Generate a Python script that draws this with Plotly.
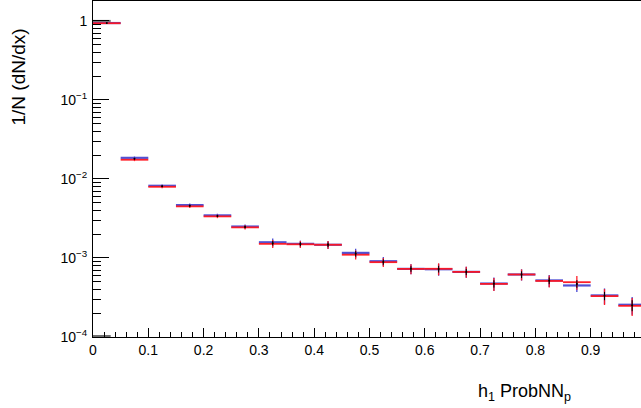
import plotly.graph_objects as go

# ---- data ----
bin_centers = [0.025, 0.075, 0.125, 0.175, 0.225, 0.275, 0.325, 0.375, 0.425, 0.475,
               0.525, 0.575, 0.625, 0.675, 0.725, 0.775, 0.825, 0.875, 0.925, 0.975]
bin_half_width = [0.025] * 20

blue_vals = [0.94, 0.0185, 0.0082, 0.00467, 0.00346, 0.00250, 0.00158, 0.00151, 0.00147, 0.00116,
             0.00091, 0.000728, 0.00072, 0.000667, 0.000475, 0.000618, 0.00052, 0.000449, 0.000336, 0.000256]
blue_errs = [0.0047, 0.0007, 0.00033, 0.00023, 0.00017, 0.00015, 0.00018, 0.00015, 0.00017, 0.00015,
             0.00012, 0.000105, 0.000124, 0.000105, 0.00009, 0.0001, 0.00009, 0.000077, 0.000076, 0.000065]

red_vals = [0.935, 0.0175, 0.00796, 0.00450, 0.00336, 0.00244, 0.00151, 0.00149, 0.00147, 0.00110,
            0.000885, 0.000728, 0.00073, 0.000667, 0.00047, 0.000618, 0.000512, 0.000494, 0.000329, 0.000248]
red_errs = [0.0047, 0.0007, 0.00032, 0.000225, 0.000168, 0.000146, 0.000175, 0.000149, 0.000171, 0.000143,
            0.000115, 0.000105, 0.000126, 0.000105, 0.000088, 0.000098, 0.000088, 0.000099, 0.000075, 0.0000635]

black_vals = [0.94, 0.018, 0.0081, 0.00458, 0.0034, 0.00247, 0.00154, 0.0015, 0.00147, 0.00113,
              0.00089, 0.000728, 0.000725, 0.000667, 0.000472, 0.000618, 0.000516, 0.00047, 0.000332, 0.000252]
black_errs = [0.003, 0.0004, 0.0002, 0.00014, 0.0001, 0.00009, 0.0001, 0.00009, 0.0001, 0.00009,
              0.00007, 0.00006, 0.00007, 0.00006, 0.00005, 0.00006, 0.00005, 0.00005, 0.00004, 0.00004]

# short grey histogram-edge segments in the first bin
grey_x = [0.0, 0.032]
grey_top = [1.0, 1.0]
grey_bottom = [1.03e-4, 1.03e-4]

y_tickvals = [1e-4, 1e-3, 1e-2, 1e-1, 1]
y_ticktext = ["10<sup>\u22124</sup>", "10<sup>\u22123</sup>", "10<sup>\u22122</sup>", "10<sup>\u22121</sup>", "1"]
x_tickvals = [0, 0.1, 0.2, 0.3, 0.4, 0.5, 0.6, 0.7, 0.8, 0.9]
x_ticktext = ["0", "0.1", "0.2", "0.3", "0.4", "0.5", "0.6", "0.7", "0.8", "0.9"]

FONT = "Liberation Sans, Arial, Helvetica, sans-serif"

fig = go.Figure()

for yy in (grey_top, grey_bottom):
    fig.add_trace(go.Scatter(x=grey_x, y=yy, mode="lines",
                             line=dict(color="rgb(110,110,110)", width=2),
                             showlegend=False, hoverinfo="skip"))

fig.add_trace(go.Scatter(
    x=bin_centers, y=blue_vals, mode="markers",
    marker=dict(size=1, color="rgba(0,0,0,0)"),
    error_x=dict(type="data", array=bin_half_width, color="rgba(50,50,205,0.85)", thickness=2.2, width=0),
    error_y=dict(type="data", array=blue_errs, color="rgba(50,50,205,0.9)", thickness=1.3, width=0),
    showlegend=False, cliponaxis=True))

fig.add_trace(go.Scatter(
    x=bin_centers, y=red_vals, mode="markers",
    marker=dict(size=1, color="rgba(0,0,0,0)"),
    error_x=dict(type="data", array=bin_half_width, color="rgba(255,20,30,0.95)", thickness=1.8, width=0),
    error_y=dict(type="data", array=red_errs, color="rgba(255,20,30,0.95)", thickness=1.3, width=0),
    showlegend=False, cliponaxis=True))

fig.add_trace(go.Scatter(
    x=bin_centers, y=black_vals, mode="markers",
    marker=dict(size=2, color="black"),
    error_y=dict(type="data", array=black_errs, color="black", thickness=1, width=0),
    showlegend=False, cliponaxis=True))

fig.update_layout(
    width=641, height=408,
    margin=dict(l=93, r=0, t=1, b=71, autoexpand=False),
    paper_bgcolor="white", plot_bgcolor="white",
    font=dict(family=FONT, size=14, color="black"),
    xaxis=dict(range=[0, 0.991], tickvals=x_tickvals, ticktext=x_ticktext, automargin=False,
               ticks="inside", ticklen=9, tickcolor="black", tickwidth=1,
               showline=True, linecolor="black", linewidth=1, mirror=True,
               showgrid=False, zeroline=False,
               minor=dict(dtick=0.02, tick0=0, ticks="inside", ticklen=5, tickcolor="black", showgrid=False),
               tickfont=dict(size=14)),
    yaxis=dict(type="log", range=[-4, 0.252], tickvals=y_tickvals, ticktext=y_ticktext, automargin=False,
               ticks="inside", ticklen=16, tickcolor="black", tickwidth=1,
               showline=True, linecolor="black", linewidth=1, mirror=False,
               showgrid=False, zeroline=False,
               minor=dict(dtick="D1", ticks="inside", ticklen=8, tickcolor="black", showgrid=False),
               tickfont=dict(size=14), ticklabelstandoff=2),
    annotations=[
        dict(text="h<sub>1</sub> ProbNN<sub>p</sub>", xref="paper", yref="paper",
             x=(573 - 93) / 548, y=-(406 - 337) / 336, xanchor="right", yanchor="bottom",
             showarrow=False, font=dict(size=18, family=FONT)),
        dict(text="1/N (dN/dx)", xref="paper", yref="paper", textangle=-90,
             x=-(93 - 18) / 548, y=(336 - 27) / 336 + 0.003, xanchor="center", yanchor="top",
             showarrow=False, font=dict(size=19, family=FONT)),
    ],
)

fig.write_html("out.html", config={"displayModeBar": False},
               post_script="document.body.style.margin='0';document.body.style.overflow='hidden';")
